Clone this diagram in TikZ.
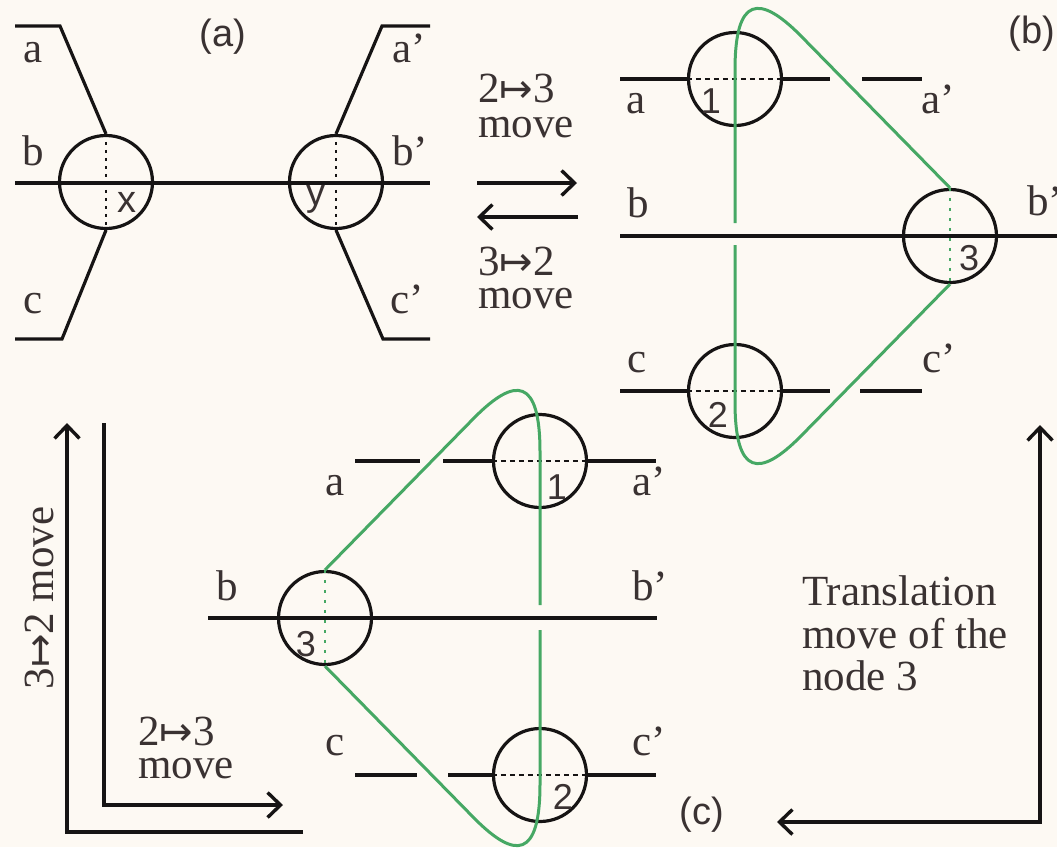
\documentclass[tikz,border=0pt]{standalone}
\usepackage{fontspec}
\setmainfont{Liberation Serif}
\setsansfont{Liberation Sans}
\newfontfamily\arrowfont{DejaVu Sans}
\newcommand{\mapsarrow}{{\arrowfont\fontsize{40}{44}\selectfont ↦}}
\usetikzlibrary{arrows.meta}
\definecolor{bg}{RGB}{253,249,243}
\definecolor{ink}{RGB}{22,20,20}
\definecolor{txt}{RGB}{58,50,50}
\definecolor{knotgreen}{RGB}{70,168,100}
\tikzset{
 line/.style={draw=ink, line width=3.2pt},
 dotv/.style={draw=ink, line width=2.8pt, dash pattern=on 3pt off 5pt},
 doth/.style={draw=ink, line width=2.6pt, dash pattern=on 5pt off 4pt},
 strand/.style={draw=knotgreen, line width=3pt, line join=round},
 dotg/.style={draw=knotgreen, line width=2.8pt, dash pattern=on 3pt off 7pt},
 vertex/.style={draw=ink, line width=3.2pt, circle, minimum size=93pt, inner sep=0pt},
 lbl/.style={text=txt, font=\fontsize{43}{46}\selectfont, inner sep=0pt},
 slbl/.style={text=txt, font=\sffamily\fontsize{38}{42}\selectfont, inner sep=0pt},
 num/.style={text=txt, font=\sffamily\fontsize{36}{38}\selectfont, inner sep=0pt},
 mv/.style={draw=ink, line width=3.4pt, -{Straight Barb[length=13pt,width=25pt]}},
 mvboth/.style={draw=ink, line width=3.4pt, {Straight Barb[length=13pt,width=25pt]}-{Straight Barb[length=13pt,width=25pt]}},
}
\begin{document}
\begin{tikzpicture}[x=1pt,y=-1pt]
\fill[bg] (0,0) rectangle (1057,847);
\useasboundingbox (0,0) rectangle (1057,847);

% ---------------- panel (a)
\node[vertex] (X) at (106,182) {};
\node[vertex] (Y) at (336,182) {};
\coordinate (aL1) at (15,26); \coordinate (aL2) at (60,26);
\coordinate (cL1) at (15,339); \coordinate (cL2) at (62,339);
\coordinate (aR1) at (430,26); \coordinate (aR2) at (382,26);
\coordinate (cR1) at (430,339); \coordinate (cR2) at (383,339);
\coordinate (bL) at (15,183); \coordinate (bR) at (430,183);
\draw[line] (aL1) -- (aL2) -- (X.north);
\draw[line] (cL1) -- (cL2) -- (X.south);
\draw[line] (aR1) -- (aR2) -- (Y.north);
\draw[line] (cR1) -- (cR2) -- (Y.south);
\draw[line] (bL) -- (bR);
\draw[dotv] (X.north) -- (X.south);
\draw[dotv] (Y.north) -- (Y.south);
\node[lbl, anchor=base] (la) at (33,62) {a};
\node[lbl, anchor=base] (lb) at (33,165) {b};
\node[lbl, anchor=base] (lc) at (33,313) {c};
\node[lbl, anchor=base west] (lap) at (392,62) {a’};
\node[lbl, anchor=base west] (lbp) at (392,165) {b’};
\node[lbl, anchor=base west] (lcp) at (390,313) {c’};
\node[slbl] (tx) at (127,202) {x};
\node[slbl] (ty) at (316,199) {y};
\node[slbl] (pa) at (223,37) {(a)};

% ---------------- arrows between (a) and (b)
\coordinate (r1) at (477,183); \coordinate (r2) at (577,183);
\coordinate (l1) at (578,217); \coordinate (l2) at (477,217);
\draw[mv] (r1) -- (r2);
\draw[mv] (l1) -- (l2);
\node[lbl, anchor=base west] (m23) at (478,102) {2\mapsarrow3};
\node[lbl, anchor=base west] (m23b) at (478,137) {move};
\node[lbl, anchor=base west] (m32) at (478,275) {3\mapsarrow2};
\node[lbl, anchor=base west] (m32b) at (478,308) {move};

% ---------------- panel (b)
\node[vertex] (B1) at (735,79) {};
\node[vertex] (B2) at (735,391) {};
\node[vertex] (B3) at (950,236) {};
\draw[line] (620,79) -- (B1.west);
\draw[doth] (B1.west) -- (B1.east);
\draw[line] (B1.east) -- (830,79);
\draw[line] (862,79) -- (922,79);
\draw[line] (620,236) -- (1070,236);
\draw[line] (620,391) -- (B2.west);
\draw[doth] (B2.west) -- (B2.east);
\draw[line] (B2.east) -- (830,391);
\draw[line] (860,391) -- (922,391);
\draw[strand] (735,223) -- (735,70) .. controls (735,-5) and (760,-5) .. (800,35) -- (B3.north);
\draw[dotg] (B3.north) -- (B3.south);
\draw[strand] (B3.south) -- (800,437) .. controls (760,477) and (735,477) .. (735,402) -- (735,245);
\node[lbl, anchor=base] (ba) at (636,113) {a};
\node[lbl, anchor=base] (bb) at (638,217) {b};
\node[lbl, anchor=base] (bc) at (637,372) {c};
\node[lbl, anchor=base west] (bap) at (921,113) {a’};
\node[lbl, anchor=base west] (bbp) at (1027,215) {b’};
\node[lbl, anchor=base west] (bcp) at (922,372) {c’};
\node[num] (n1) at (711,101) {1};
\node[num] (n2) at (718,415) {2};
\node[num] (n3) at (969,258) {3};
\node[slbl] (pb) at (1032,34) {(b)};

% ---------------- panel (c)
\node[vertex] (C1) at (540,461) {};
\node[vertex] (C2) at (540,775) {};
\node[vertex] (C3) at (325,618) {};
\draw[line] (355,461) -- (420,461);
\draw[line] (443,461) -- (C1.west);
\draw[doth] (C1.west) -- (C1.east);
\draw[line] (C1.east) -- (656,461);
\draw[line] (208,618) -- (657,618);
\draw[line] (355,775) -- (417,775);
\draw[line] (448,775) -- (C2.west);
\draw[doth] (C2.west) -- (C2.east);
\draw[line] (C2.east) -- (656,775);
\draw[strand] (540,605) -- (540,452) .. controls (540,377) and (515,377) .. (475,417) -- (C3.north);
\draw[dotg] (C3.north) -- (C3.south);
\draw[strand] (C3.south) -- (475,819) .. controls (515,859) and (540,859) .. (540,784) -- (540,630);
\node[lbl, anchor=base] (ca) at (335,495) {a};
\node[lbl, anchor=base] (cb) at (227,600) {b};
\node[lbl, anchor=base] (cc) at (335,755) {c};
\node[lbl, anchor=base west] (cap) at (632,495) {a’};
\node[lbl, anchor=base west] (cbp) at (632,600) {b’};
\node[lbl, anchor=base west] (ccp) at (632,755) {c’};
\node[num] (k1) at (557,487) {1};
\node[num] (k2) at (563,797) {2};
\node[num] (k3) at (306,644) {3};
\node[slbl] (pc) at (702,815) {(c)};

% ---------------- lower-left arrows
\coordinate (L1a) at (303,832); \coordinate (L1b) at (67,832); \coordinate (L1c) at (67,423);
\draw[mv] (L1a) -- (L1b) -- (L1c);
\coordinate (L2a) at (104,423); \coordinate (L2b) at (104,805); \coordinate (L2c) at (283,805);
\draw[mv] (L2a) -- (L2b) -- (L2c);
\node[lbl, rotate=90] (rot) at (39,598) {3\mapsarrow2 move};
\node[lbl, anchor=base west] (q23) at (138,745) {2\mapsarrow3};
\node[lbl, anchor=base west] (q23b) at (138,778) {move};

% ---------------- right arrows (translation)
\coordinate (T1) at (777,822); \coordinate (T2) at (1040,822); \coordinate (T3) at (1040,425);
\draw[mvboth] (T1) -- (T2) -- (T3);
\node[lbl, anchor=base west] (tr1) at (802,605) {Translation};
\node[lbl, anchor=base west] (tr2) at (802,648) {move of the};
\node[lbl, anchor=base west] (tr3) at (802,690) {node 3};
\end{tikzpicture}
\end{document}
